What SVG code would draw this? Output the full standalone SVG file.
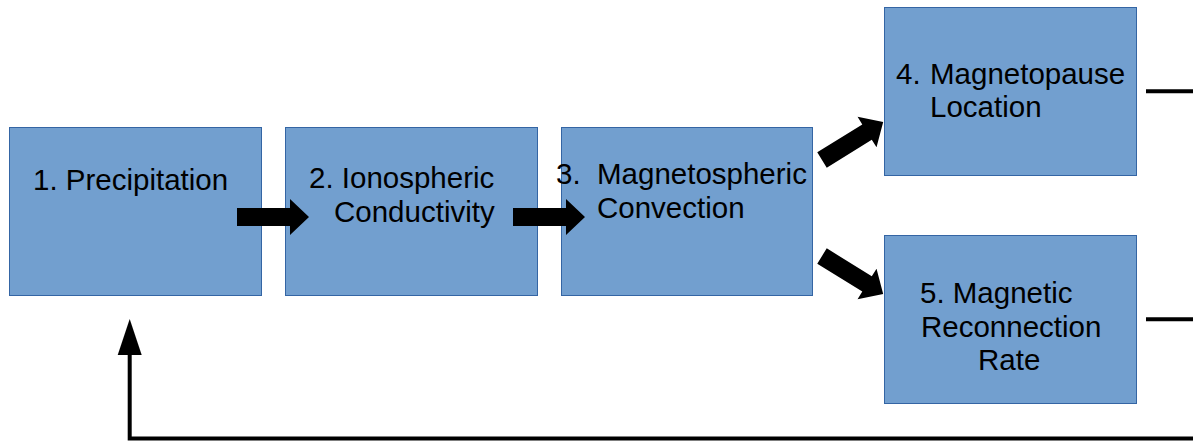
<svg xmlns="http://www.w3.org/2000/svg" width="1193" height="441" viewBox="0 0 1193 441">
  <style>
    .box { fill: #729fcf; stroke: #3465a4; stroke-width: 1; }
    .lbl { font-family: "Liberation Sans", Arial, sans-serif; font-size: 29.5px; fill: #000000; }
    .line { fill: none; stroke: #000000; stroke-width: 4; }
    .blk { fill: #000000; }
  </style>
  <defs>
    <path id="blockArrow" d="M0,-9 L53,-9 L53,-18 L72,0 L53,18 L53,9 L0,9 Z"/>
  </defs>
  <rect width="1193" height="441" fill="#ffffff"/>

  <g id="node1">
    <rect class="box" x="9.5" y="127.5" width="252" height="168"/>
    <text class="lbl" x="33" y="190">1. Precipitation</text>
  </g>
  <g id="node2">
    <rect class="box" x="285.5" y="127.5" width="252" height="168"/>
    <text class="lbl" x="309" y="188">2. Ionospheric</text>
    <text class="lbl" x="334" y="222">Conductivity</text>
  </g>
  <g id="node3">
    <rect class="box" x="561.5" y="127.5" width="251" height="168"/>
    <text class="lbl" x="556" y="184">3.</text>
    <text class="lbl" x="597" y="184">Magnetospheric</text>
    <text class="lbl" x="597" y="218">Convection</text>
  </g>
  <g id="node4">
    <rect class="box" x="884.5" y="7.5" width="252" height="168"/>
    <text class="lbl" x="896" y="84">4.</text>
    <text class="lbl" x="930" y="84">Magnetopause</text>
    <text class="lbl" x="930" y="117">Location</text>
  </g>
  <g id="node5">
    <rect class="box" x="884.5" y="235.5" width="252" height="168"/>
    <text class="lbl" x="920" y="303">5. Magnetic</text>
    <text class="lbl" x="921" y="337">Reconnection</text>
    <text class="lbl" x="978" y="370">Rate</text>
  </g>

  <g id="connectors">
    <use href="#blockArrow" class="blk" transform="translate(237,217)"/>
    <use href="#blockArrow" class="blk" transform="translate(513,217)"/>
    <use href="#blockArrow" class="blk" transform="translate(822,160) rotate(-31.8)"/>
    <use href="#blockArrow" class="blk" transform="translate(822,256) rotate(31.8)"/>
    <line class="line" x1="1146" y1="91.3" x2="1193" y2="91.3"/>
    <line class="line" x1="1146" y1="319.3" x2="1193" y2="319.3"/>
    <polyline class="line" points="1193,438.5 129.7,438.5 129.7,352"/>
    <polygon class="blk" points="129.7,319 141.7,355 117.7,355"/>
  </g>
</svg>
